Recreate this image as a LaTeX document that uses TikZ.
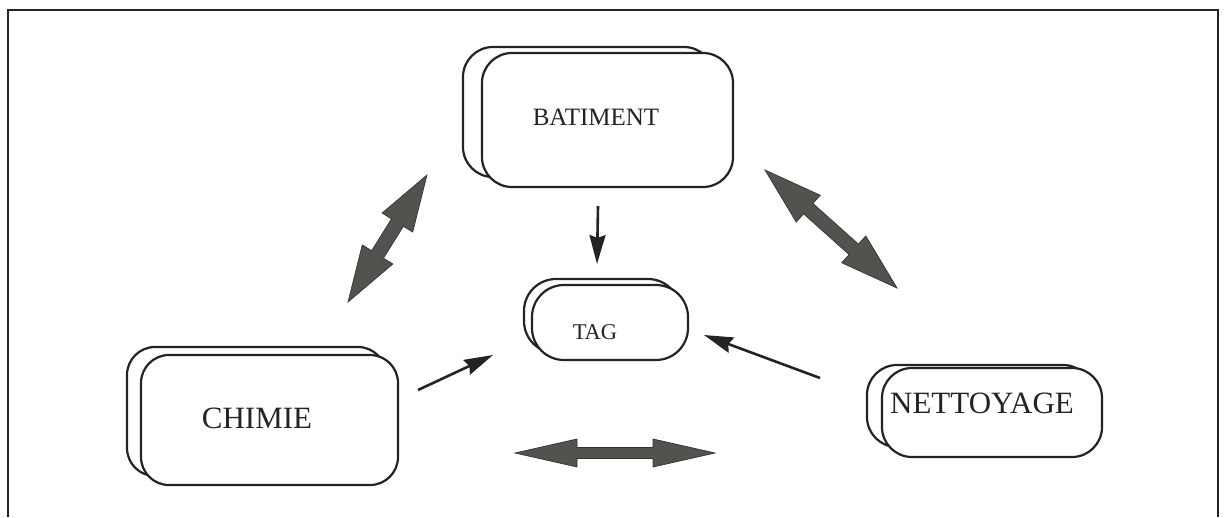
\documentclass[tikz,border=0pt]{standalone}
\usepackage{fontspec}
\setmainfont{Liberation Serif}
\usetikzlibrary{calc,arrows.meta}
\definecolor{arrowgrey}{RGB}{82,82,78}
\definecolor{ink}{RGB}{35,35,35}
\newcommand\fatdarrow[5]{%
  \coordinate (#1-ha) at ($(#1)!#3!(#2)$);
  \coordinate (#1-hb) at ($(#2)!#3!(#1)$);
  \filldraw[fatarrow] (#1)
   -- ($(#1-ha)!#4!90:(#2)$)
   -- ($(#1-ha)!#5!90:(#2)$)
   -- ($(#1-hb)!#5!-90:(#1)$)
   -- ($(#1-hb)!#4!-90:(#1)$)
   -- (#2)
   -- ($(#1-hb)!#4!90:(#1)$)
   -- ($(#1-hb)!#5!90:(#1)$)
   -- ($(#1-ha)!#5!-90:(#2)$)
   -- ($(#1-ha)!#4!-90:(#2)$)
   -- cycle;}
\begin{document}
\begin{tikzpicture}[x=1pt,y=-1pt,
  box/.style={draw=ink, line width=2.2pt, fill=white, rounded corners=#1, inner sep=0pt},
  box/.default=30pt,
  lbl/.style={inner sep=0pt, text=ink},
  fatarrow/.style={fill=arrowgrey, draw=black!80, line width=0.7pt, line join=miter},
  thin arrow/.style={draw=ink, line width=2.6pt, -{Stealth[length=29pt,width=16pt,inset=3pt]}},
  frame/.style={draw=ink, line width=2pt}]
\useasboundingbox (0,0) rectangle (1224,517);
\draw[frame] (8,517) -- (8,10) -- (1218,10) -- (1218,517);

% BATIMENT
\node[box, minimum width=251pt, minimum height=130pt] (batB) at (588.5,112) {};
\node[box, minimum width=251pt, minimum height=134pt] (bat) at (607.5,120) {};
\node[lbl, font=\fontsize{25}{28}\selectfont] (batT) at (596,117) {BATIMENT};

% TAG
\node[box=32pt, minimum width=156pt, minimum height=74pt] (tagB) at (602,316) {};
\node[box=32pt, minimum width=156pt, minimum height=75pt] (tag) at (610,322.5) {};
\node[lbl, font=\fontsize{22.5}{25}\selectfont] (tagT) at (595,332) {TAG};

% CHIMIE
\node[box=28pt, minimum width=259pt, minimum height=129pt] (chiB) at (256.5,411.5) {};
\node[box=28pt, minimum width=257pt, minimum height=130pt] (chi) at (269.5,420) {};
\node[lbl, font=\fontsize{31}{34}\selectfont] (chiT) at (257,418) {CHIMIE};

% NETTOYAGE
\node[box=30pt, minimum width=226pt, minimum height=82pt] (netB) at (980,406) {};
\node[box=30pt, minimum width=220pt, minimum height=89pt] (net) at (992,412.5) {};
\node[lbl, font=\fontsize{31}{34}\selectfont] (netT) at (982,403) {NETTOYAGE};

% fat double arrows
\coordinate (lA) at (427,175); \coordinate (lB) at (348,302);
\coordinate (rA) at (765,170); \coordinate (rB) at (897,288);
\coordinate (bA) at (515,453); \coordinate (bB) at (715,453);
\fatdarrow{lA}{lB}{56pt}{18pt}{7pt}
\fatdarrow{rA}{rB}{58pt}{18pt}{7pt}
\fatdarrow{bA}{bB}{62pt}{14pt}{5.5pt}

% thin arrows to TAG
\coordinate (s1) at (598,206); \coordinate (e1) at (597,264);
\coordinate (s2) at (418,390); \coordinate (e2) at (493,355);
\coordinate (s3) at (820,378); \coordinate (e3) at (704,335);
\draw[thin arrow] (s1) -- (e1);
\draw[thin arrow] (s2) -- (e2);
\draw[thin arrow] (s3) -- (e3);
\end{tikzpicture}
\end{document}
